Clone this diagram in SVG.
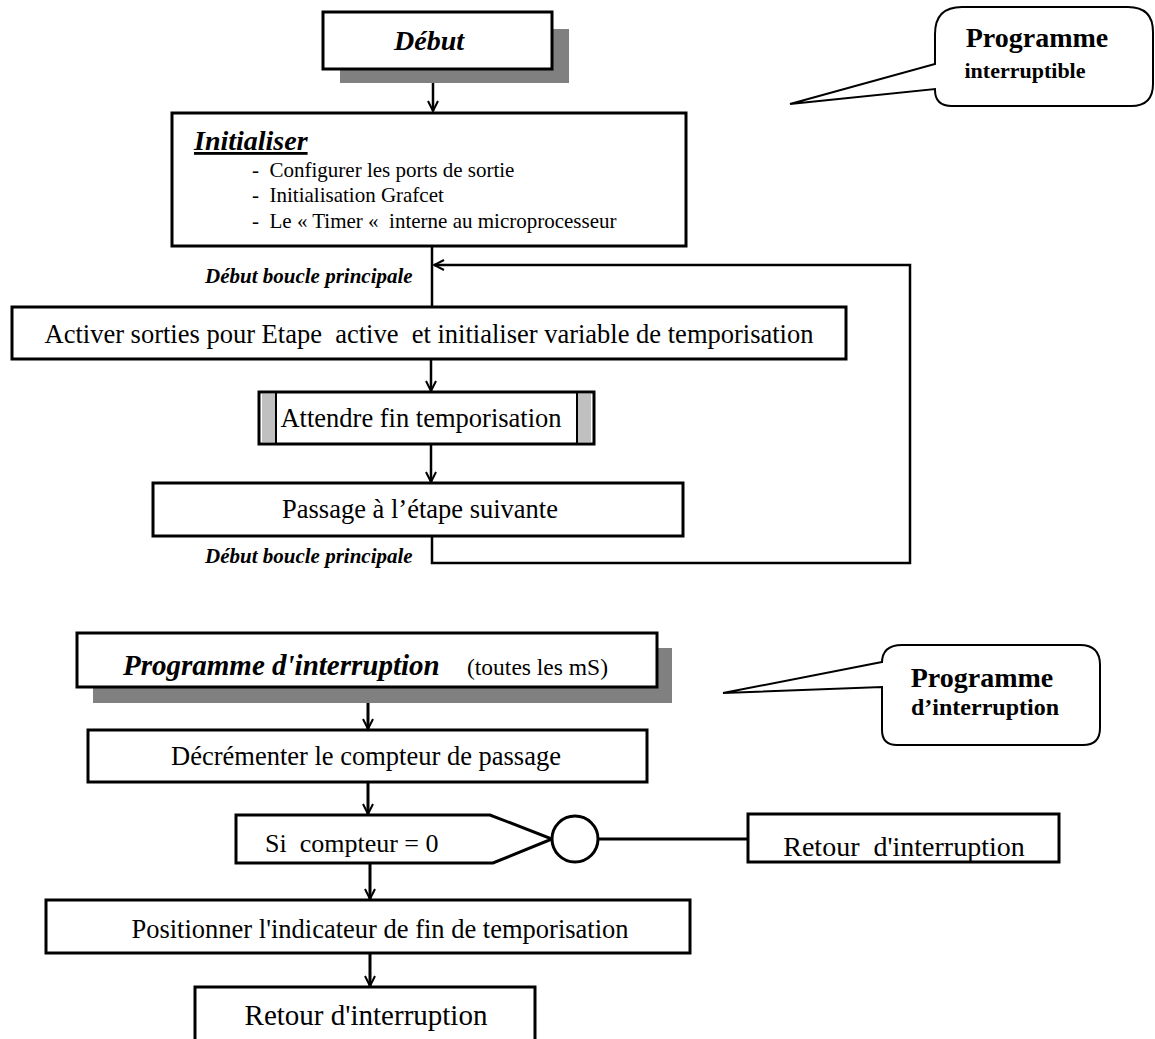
<svg xmlns="http://www.w3.org/2000/svg" width="1155" height="1039" viewBox="0 0 1155 1039">
<style>
.box{fill:#fff;stroke:#000;stroke-width:3}
.sh{fill:#808080}
.t{font-family:"Liberation Serif","Times New Roman",serif;fill:#000;white-space:pre}
.b{font-weight:bold}
.i{font-style:italic}
.ln{fill:none;stroke:#000;stroke-width:2.5}
.lb{fill:none;stroke:#000;stroke-width:3}
.co{fill:#fff;stroke:#000;stroke-width:2}
</style>
<defs>
<marker id="a" viewBox="0 0 12 12" refX="11" refY="6" markerWidth="12" markerHeight="12" markerUnits="userSpaceOnUse" orient="auto"><path d="M1,1 L11,6 L1,11" fill="none" stroke="#000" stroke-width="2"/></marker>
</defs>

<g id="connectors">
<path class="ln" d="M433,69 V111" marker-end="url(#a)"/>
<path class="ln" d="M432,246 V307"/>
<path class="ln" d="M431,359 V391" marker-end="url(#a)"/>
<path class="ln" d="M431,444 V482" marker-end="url(#a)"/>
<path class="ln" d="M432,536 V563 H910 V265 H434" marker-end="url(#a)"/>
<path class="lb" d="M368,687 V729" marker-end="url(#a)"/>
<path class="lb" d="M368,782 V814" marker-end="url(#a)"/>
<path class="lb" d="M598,839 H748"/>
<path class="lb" d="M370,863 V899" marker-end="url(#a)"/>
<path class="lb" d="M370,953 V986" marker-end="url(#a)"/>
</g>

<g id="debut">
<rect class="sh" x="340" y="29" width="229" height="54"/>
<rect class="box" x="323" y="12" width="229" height="57"/>
<text class="t b i" x="429" y="50" font-size="28" text-anchor="middle">Début</text>
</g>

<g id="callout1">
<path class="co" d="M962,7 H1128 Q1153,7 1153,32 V84 Q1153,106 1131,106 H952 Q935,106 935,90 V89 L790,104 L935,64 V34 Q935,7 962,7 Z"/>
<text class="t b" x="1037" y="47" font-size="28" text-anchor="middle">Programme</text>
<text class="t b" x="1025" y="78" font-size="22" text-anchor="middle">interruptible</text>
</g>

<g id="initialiser">
<rect class="box" x="172" y="113" width="514" height="133"/>
<text class="t b i" x="194" y="150" font-size="28" text-decoration="underline">Initialiser</text>
<text class="t" x="252" y="177" font-size="21">-  Configurer les ports de sortie</text>
<text class="t" x="252" y="202" font-size="21">-  Initialisation Grafcet</text>
<text class="t" x="252" y="228" font-size="21">-  Le « Timer «  interne au microprocesseur</text>
</g>

<g id="label1">
<text class="t b i" x="205" y="283" font-size="21">Début boucle principale</text>
</g>

<g id="activer">
<rect class="box" x="12" y="307" width="834" height="52"/>
<text class="t" x="429" y="343" font-size="26.5" text-anchor="middle">Activer sorties pour Etape  active  et initialiser variable de temporisation</text>
</g>

<g id="attendre">
<rect class="box" x="259" y="392" width="335" height="52"/>
<rect x="262" y="394" width="13" height="48" fill="#c0c0c0"/>
<rect x="578" y="394" width="13" height="48" fill="#c0c0c0"/>
<path d="M276,393 V443 M577,393 V443" stroke="#000" stroke-width="2"/>
<text class="t" x="421" y="427" font-size="26.5" text-anchor="middle">Attendre fin temporisation</text>
</g>

<g id="passage">
<rect class="box" x="153" y="483" width="530" height="53"/>
<text class="t" x="420" y="518" font-size="26.5" text-anchor="middle">Passage à l’étape suivante</text>
</g>

<g id="label2">
<text class="t b i" x="205" y="563" font-size="21">Début boucle principale</text>
</g>

<g id="prog-interruption">
<rect class="sh" x="93" y="648" width="579" height="55"/>
<rect class="box" x="77" y="633" width="580" height="54"/>
<text class="t b i" x="123" y="675" font-size="29">Programme d'interruption</text>
<text class="t" x="467" y="675" font-size="23.5">(toutes les mS)</text>
</g>

<g id="callout2">
<path class="co" d="M902,645 H1080 Q1100,645 1100,665 V728 Q1100,745 1083,745 H897 Q882,745 882,730 V687 L723,693 L882,662 V663 Q882,645 902,645 Z"/>
<text class="t b" x="982" y="687" font-size="28" text-anchor="middle">Programme</text>
<text class="t b" x="985" y="715" font-size="24" text-anchor="middle">d’interruption</text>
</g>

<g id="decrementer">
<rect class="box" x="88" y="730" width="559" height="52"/>
<text class="t" x="366" y="765" font-size="26.5" text-anchor="middle">Décrémenter le compteur de passage</text>
</g>

<g id="si-compteur">
<path class="lb" d="M236,815 H490 L552,839 L493,863 H236 Z" fill="#fff"/>
<text class="t" x="265" y="852" font-size="26">Si  compteur = 0</text>
<circle cx="575" cy="839" r="23" fill="#fff" stroke="#000" stroke-width="3"/>
</g>

<g id="retour-droite">
<rect class="box" x="748" y="814" width="311" height="48"/>
<text class="t" x="904" y="856" font-size="28" text-anchor="middle">Retour  d'interruption</text>
</g>

<g id="positionner">
<rect class="box" x="46" y="900" width="644" height="53"/>
<text class="t" x="380" y="938" font-size="26.5" text-anchor="middle">Positionner l'indicateur de fin de temporisation</text>
</g>

<g id="retour-bas">
<rect class="box" x="195" y="987" width="340" height="60"/>
<text class="t" x="366" y="1025" font-size="29" text-anchor="middle">Retour d'interruption</text>
</g>
</svg>
